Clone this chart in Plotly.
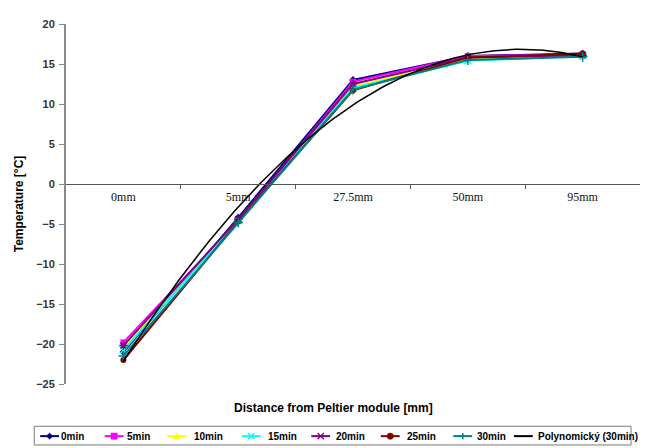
import numpy as np
import plotly.graph_objects as go

categories = ["0mm", "5mm", "27.5mm", "50mm", "95mm"]
series_names = ["0min", "5min", "10min", "15min", "20min", "25min", "30min"]
v_0min = [-21.0, -4.2, 13.0, 16.0, 16.3]
v_5min = [-19.8, -4.6, 12.8, 16.0, 16.2]
v_10min = [-20.5, -4.5, 12.2, 15.6, 16.0]
v_15min = [-20.8, -4.6, 12.0, 15.4, 16.0]
v_20min = [-20.2, -4.4, 12.5, 15.8, 16.1]
v_25min = [-22.0, -4.7, 11.7, 15.8, 16.3]
v_30min = [-21.5, -4.8, 11.8, 15.5, 15.9]
trend_label = "Polynomický (30min)"

series_values = [v_0min, v_5min, v_10min, v_15min, v_20min, v_25min, v_30min]
colors = ["#000080", "#FF00FF", "#FFFF00", "#00FFFF", "#800080", "#800000", "#008080"]
symbols = ["diamond", "square", "triangle-up", "x-thin", "asterisk", "circle", "cross-thin"]

# page has an 8px body margin: the figure is sized so that it ends at the window edge
W, H = 644, 440
L, R, T, B = 54, 12, 10, 64
PW, PH = W - L - R, H - T - B
PAGE_PLOT_LEFT, PAGE_PLOT_BOTTOM = 62, 384


def px(x):  # page pixel -> paper
    return (x - PAGE_PLOT_LEFT) / PW


def py(y):  # page pixel -> paper
    return (PAGE_PLOT_BOTTOM - y) / PH


xi = np.arange(len(categories))
fig = go.Figure()
for name, vals, col, sym in zip(series_names, series_values, colors, symbols):
    thin = sym in ("x-thin", "asterisk", "cross-thin")
    fig.add_trace(go.Scatter(
        x=xi, y=vals, name=name, mode="lines+markers",
        line=dict(color=col, width=2),
        marker=dict(symbol=sym, size=6 if not thin else 7, color=col,
                    line=dict(color=col, width=1.5 if thin else 0)),
    ))

# quadratic (polynomial) trendline of the 30min series
coef = np.polyfit(xi, v_30min, 2)
xs = np.linspace(0, len(categories) - 1, 200)
fig.add_trace(go.Scatter(x=xs, y=np.polyval(coef, xs), name=trend_label, mode="lines",
                         line=dict(color="#000000", width=1.5)))

# ---- hand-drawn single-row legend (layout only) ----
legend_labels = series_names + [trend_label]
legend_colors = colors + ["#000000"]
legend_symbols = symbols + [None]
sym_x0 = [36, 101, 164, 239, 309, 379, 452, 513]
text_x0 = [55, 121, 189, 263, 332, 403, 474, 535]
seg_w = 19
ly = 437
shapes = [dict(type="rect", xref="paper", yref="paper", x0=px(30), x1=px(631), y0=py(427), y1=py(446),
               line=dict(color="#7a7a7a", width=1), fillcolor="white", layer="below")]
annotations = []


def marker_shapes(sym, cx, cy, col, s=3.2):
    out = []
    if sym == "diamond":
        path = f"M {px(cx)},{py(cy - s)} L {px(cx + s)},{py(cy)} L {px(cx)},{py(cy + s)} L {px(cx - s)},{py(cy)} Z"
        out.append(dict(type="path", path=path, fillcolor=col, line=dict(color=col, width=0.5)))
    elif sym == "square":
        out.append(dict(type="rect", x0=px(cx - s), x1=px(cx + s), y0=py(cy + s), y1=py(cy - s),
                        fillcolor=col, line=dict(color=col, width=0.5)))
    elif sym == "triangle-up":
        path = f"M {px(cx)},{py(cy - s)} L {px(cx + s)},{py(cy + s)} L {px(cx - s)},{py(cy + s)} Z"
        out.append(dict(type="path", path=path, fillcolor=col, line=dict(color=col, width=0.5)))
    elif sym == "circle":
        out.append(dict(type="circle", x0=px(cx - s), x1=px(cx + s), y0=py(cy + s), y1=py(cy - s),
                        fillcolor=col, line=dict(color=col, width=0.5)))
    elif sym == "x-thin":
        out.append(dict(type="line", x0=px(cx - s), x1=px(cx + s), y0=py(cy - s), y1=py(cy + s), line=dict(color=col, width=1.5)))
        out.append(dict(type="line", x0=px(cx - s), x1=px(cx + s), y0=py(cy + s), y1=py(cy - s), line=dict(color=col, width=1.5)))
    elif sym == "cross-thin":
        out.append(dict(type="line", x0=px(cx - s), x1=px(cx + s), y0=py(cy), y1=py(cy), line=dict(color=col, width=1.5)))
        out.append(dict(type="line", x0=px(cx), x1=px(cx), y0=py(cy - s), y1=py(cy + s), line=dict(color=col, width=1.5)))
    elif sym == "asterisk":
        out.append(dict(type="line", x0=px(cx - s), x1=px(cx + s), y0=py(cy - s), y1=py(cy + s), line=dict(color=col, width=1.2)))
        out.append(dict(type="line", x0=px(cx - s), x1=px(cx + s), y0=py(cy + s), y1=py(cy - s), line=dict(color=col, width=1.2)))
        out.append(dict(type="line", x0=px(cx - s), x1=px(cx + s), y0=py(cy), y1=py(cy), line=dict(color=col, width=1.2)))
    for o in out:
        o.update(xref="paper", yref="paper")
    return out


for lab, col, sym, sx, tx in zip(legend_labels, legend_colors, legend_symbols, sym_x0, text_x0):
    shapes.append(dict(type="line", xref="paper", yref="paper", x0=px(sx), x1=px(sx + seg_w),
                       y0=py(ly), y1=py(ly), line=dict(color=col, width=2)))
    if sym:
        shapes += marker_shapes(sym, sx + seg_w / 2, ly, col)
    annotations.append(dict(text=lab, xref="paper", yref="paper", x=px(tx), y=py(ly),
                            xanchor="left", yanchor="middle", showarrow=False,
                            font=dict(family="Liberation Sans, Arial", size=10, color="#000000", weight="bold")))

annotations.append(dict(text="Distance from Peltier module [mm]", xref="paper", yref="paper",
                        x=px(331), y=py(408), xanchor="center", yanchor="middle", showarrow=False,
                        font=dict(family="Liberation Sans, Arial", size=12, color="#000000", weight="bold")))

fig.update_layout(
    width=W, height=H,
    margin=dict(l=L, r=R, t=T, b=B),
    paper_bgcolor="white", plot_bgcolor="white",
    showlegend=False,
    shapes=shapes,
    annotations=annotations,
)
fig.update_xaxes(
    range=[-0.5, 4.5], tickmode="array", tickvals=list(xi), ticktext=categories,
    ticks="", showgrid=False, zeroline=False,
    anchor="free", position=25 / 45,
    showline=True, linecolor="#555555", linewidth=1.2,
    tickfont=dict(family="Liberation Serif, Times New Roman", size=12, color="#111111"),
    ticklabelstandoff=1,
    minor=dict(tickvals=[0.5, 1.5, 2.5, 3.5], ticks="outside", ticklen=4, tickcolor="#555555", showgrid=False),
)
fig.update_yaxes(
    range=[-25, 20], dtick=5, tick0=0, showgrid=False, zeroline=False,
    showline=True, linecolor="#8a8a8a", linewidth=2,
    ticks="outside", ticklen=5, tickcolor="#8a8a8a",
    tickfont=dict(family="Liberation Sans, Arial", size=11, color="#333333", weight="bold"),
    ticklabelstandoff=2,
    title=dict(text="Temperature [°C]", standoff=10,
               font=dict(family="Liberation Sans, Arial", size=12, color="#000000", weight="bold")),
)
fig.write_html("out.html")
